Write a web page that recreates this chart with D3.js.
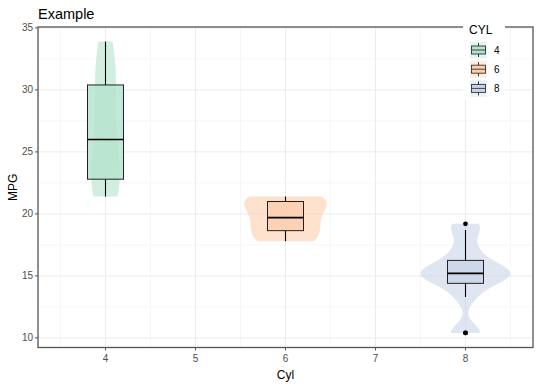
<!DOCTYPE html>
<html><head><meta charset="utf-8">
<script src="https://cdn.jsdelivr.net/npm/d3@7"></script>
<style>body{margin:0;background:#fff}svg{display:block;font-family:"Liberation Sans",Arial,sans-serif}</style>
</head><body><svg id="c" width="540" height="386"></svg>
<script>
// mtcars mpg by cylinder count
const groups = ["4", "6", "8"];
const mpg4 = [22.8, 24.4, 22.8, 32.4, 30.4, 33.9, 21.5, 27.3, 26.0, 30.4, 21.4];
const mpg6 = [21.0, 21.0, 21.4, 18.1, 19.2, 17.8, 19.7];
const mpg8 = [18.7, 14.3, 16.4, 17.3, 15.2, 10.4, 10.4, 14.7, 15.5, 15.2, 13.3, 19.2, 15.8, 15.0];
const colors = ["#B3E2CD", "#FDCDAC", "#CBD5E8"];
const xTicks = [4, 5, 6, 7, 8];
const yTicks = [10, 15, 20, 25, 30, 35];
const series = [mpg4, mpg6, mpg8];

const svg = d3.select("#c");
const L = 38, R = 533, T = 27, B = 347.5;
const x = d3.scaleLinear().domain([3.25, 8.75]).range([L, R]);
const y = d3.scaleLinear().domain([9.225, 35.075]).range([B, T]);

// grid
const g = svg.append("g");
const minorX = d3.range(3.5, 8.6, 1), minorY = d3.range(12.5, 33, 5);
g.selectAll(".mx").data(minorX).join("line").attr("x1", d => x(d)).attr("x2", d => x(d)).attr("y1", T).attr("y2", B).attr("stroke", "#F2F2F2").attr("stroke-width", 0.6);
g.selectAll(".my").data(minorY).join("line").attr("y1", d => y(d)).attr("y2", d => y(d)).attr("x1", L).attr("x2", R).attr("stroke", "#F2F2F2").attr("stroke-width", 0.6);
g.selectAll(".Mx").data(xTicks).join("line").attr("x1", d => x(d)).attr("x2", d => x(d)).attr("y1", T).attr("y2", B).attr("stroke", "#EBEBEB").attr("stroke-width", 1);
g.selectAll(".My").data(yTicks).join("line").attr("y1", d => y(d)).attr("y2", d => y(d)).attr("x1", L).attr("x2", R).attr("stroke", "#EBEBEB").attr("stroke-width", 1);

// KDE (gaussian, bw.nrd0), trimmed to data range
function nrd0(v) {
  const s = d3.deviation(v), q = d3.quantileSorted(v, 0.75) - d3.quantileSorted(v, 0.25);
  return 0.9 * Math.min(s, q / 1.34) * Math.pow(v.length, -0.2);
}
const dens = series.map(arr => {
  const v = arr.slice().sort(d3.ascending);
  const bw = nrd0(v), n = v.length, lo = v[0], hi = v[n - 1];
  return d3.range(512).map(i => {
    const yy = lo + (hi - lo) * i / 511;
    const d = d3.sum(v, xi => Math.exp(-0.5 * ((yy - xi) / bw) ** 2)) / (n * bw * Math.sqrt(2 * Math.PI));
    return {y: yy, d};
  });
});
const maxD = d3.max(dens, a => d3.max(a, p => p.d));

const cx = groups.map(Number);
dens.forEach((a, i) => {
  const area = d3.area().y(p => y(p.y)).x0(p => x(cx[i] - 0.5 * p.d / maxD)).x1(p => x(cx[i] + 0.5 * p.d / maxD));
  svg.append("path").attr("d", area(a)).attr("fill", colors[i]).attr("fill-opacity", 0.6);
});

// boxplots
series.forEach((arr, i) => {
  const v = arr.slice().sort(d3.ascending);
  const q1 = d3.quantileSorted(v, 0.25), md = d3.quantileSorted(v, 0.5), q3 = d3.quantileSorted(v, 0.75);
  const iqr = q3 - q1;
  const lo = d3.min(v.filter(d => d >= q1 - 1.5 * iqr)), hi = d3.max(v.filter(d => d <= q3 + 1.5 * iqr));
  const out = v.filter(d => d < lo || d > hi);
  const c = cx[i], bg = svg.append("g");
  bg.append("line").attr("x1", x(c)).attr("x2", x(c)).attr("y1", y(hi)).attr("y2", y(q3)).attr("stroke", "#000").attr("stroke-width", 1.1);
  bg.append("line").attr("x1", x(c)).attr("x2", x(c)).attr("y1", y(q1)).attr("y2", y(lo)).attr("stroke", "#000").attr("stroke-width", 1.1);
  bg.append("rect").attr("x", x(c - 0.2)).attr("width", x(c + 0.2) - x(c - 0.2)).attr("y", y(q3)).attr("height", y(q1) - y(q3))
    .attr("fill", colors[i]).attr("fill-opacity", 0.8).attr("stroke", "#222").attr("stroke-width", 1);
  bg.append("line").attr("x1", x(c - 0.2)).attr("x2", x(c + 0.2)).attr("y1", y(md)).attr("y2", y(md)).attr("stroke", "#000").attr("stroke-width", 1.6);
  bg.selectAll("circle").data(out).join("circle").attr("cx", x(c)).attr("cy", d => y(d)).attr("r", 2.4).attr("fill", "#000");
});

// panel border
svg.append("rect").attr("x", L).attr("y", T).attr("width", R - L).attr("height", B - T).attr("fill", "none").attr("stroke", "#555").attr("stroke-width", 1.3);

// axes ticks & labels
svg.selectAll(".yt").data(yTicks).join("line").attr("x1", L - 3).attr("x2", L).attr("y1", d => y(d)).attr("y2", d => y(d)).attr("stroke", "#555");
svg.selectAll(".yl").data(yTicks).join("text").attr("x", L - 5).attr("y", d => y(d) + 3.4).attr("text-anchor", "end").attr("font-size", 10).attr("fill", "#4D4D4D").text(d => d);
svg.selectAll(".xt").data(xTicks).join("line").attr("y1", B).attr("y2", B + 3).attr("x1", d => x(d)).attr("x2", d => x(d)).attr("stroke", "#555");
svg.selectAll(".xl").data(xTicks).join("text").attr("y", B + 14).attr("x", d => x(d)).attr("text-anchor", "middle").attr("font-size", 10).attr("fill", "#4D4D4D").text(d => d);

svg.append("text").attr("x", (L + R) / 2).attr("y", 379).attr("text-anchor", "middle").attr("font-size", 12).attr("fill", "#000").text("Cyl");
svg.append("text").attr("transform", `translate(17,${(T + B) / 2}) rotate(-90)`).attr("text-anchor", "middle").attr("font-size", 12).attr("fill", "#000").text("MPG");
svg.append("text").attr("x", 38).attr("y", 19).attr("font-size", 14.5).attr("fill", "#000").text("Example");

// legend
const lg = svg.append("g");
lg.append("rect").attr("x", 463).attr("y", 20).attr("width", 42).attr("height", 80).attr("fill", "#fff");
lg.append("text").attr("x", 469).attr("y", 33.5).attr("font-size", 12).attr("fill", "#000").text("CYL");
groups.forEach((k, i) => {
  const ky = 41.5 + i * 19.2, kx = 470, ks = 17;
  lg.append("rect").attr("x", kx).attr("y", ky).attr("width", ks).attr("height", ks).attr("fill", colors[i]).attr("fill-opacity", 0.35);
  lg.append("line").attr("x1", kx + ks / 2).attr("x2", kx + ks / 2).attr("y1", ky + 1.5).attr("y2", ky + ks - 1.5).attr("stroke", "#222").attr("stroke-width", 0.9);
  lg.append("rect").attr("x", kx + 1.5).attr("y", ky + 4.5).attr("width", ks - 3).attr("height", ks - 9).attr("fill", colors[i]).attr("stroke", "#333").attr("stroke-width", 0.9);
  lg.append("line").attr("x1", kx + 1.5).attr("x2", kx + ks - 1.5).attr("y1", ky + ks / 2).attr("y2", ky + ks / 2).attr("stroke", "#333").attr("stroke-width", 0.9);
  lg.append("text").attr("x", 494).attr("y", ky + ks / 2 + 3.5).attr("font-size", 10).attr("fill", "#000").text(k);
});
</script></body></html>
